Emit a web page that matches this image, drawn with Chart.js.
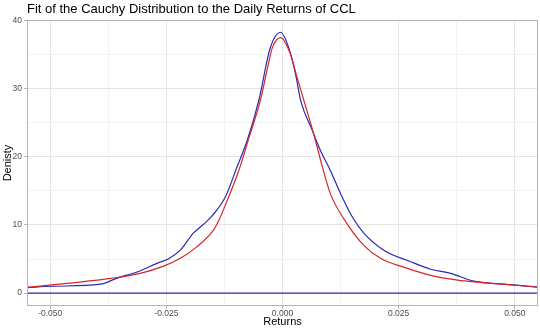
<!DOCTYPE html>
<html>
<head>
<meta charset="utf-8">
<script src="https://cdn.jsdelivr.net/npm/chart.js@4"></script>
<style>
  html, body { margin: 0; padding: 0; background: #fff; }
  #wrap { width: 540px; height: 331px; }
</style>
</head>
<body>
<div id="wrap"><canvas id="myChart" width="540" height="331"></canvas></div>
<script>
// DATA
const kdeReturns = [-0.0550, -0.0494, -0.0392, -0.0356, -0.0313, -0.0269, -0.0246, -0.0220, -0.0192, -0.0170,
  -0.0152, -0.0123, -0.0098, -0.0076, -0.0051, -0.0026, -0.0004, 0.0013, 0.0028, 0.0039,
  0.0064, 0.0082, 0.0103, 0.0125, 0.0150, 0.0175, 0.0218, 0.0276, 0.0319, 0.0362, 0.0412, 0.0476, 0.0550];
const kdeDensity = [0.8, 1.0, 1.3, 2.2, 3.1, 4.4, 5.0, 6.3, 8.8, 10.1,
  11.3, 14.1, 18.5, 22.4, 28.3, 36.1, 38.3, 36.1, 32.2, 28.3,
  23.9, 20.9, 18.0, 14.6, 11.2, 8.8, 6.3, 4.6, 3.5, 2.9, 1.75, 1.3, 0.9];

const cauchyReturns = [-0.0550, -0.0453, -0.0370, -0.0306, -0.0256, -0.0220, -0.0188, -0.0149, -0.0137, -0.0116,
  -0.0094, -0.0073, -0.0047, -0.0034, -0.0022, -0.0004, 0.0017, 0.0030, 0.0046, 0.0067, 0.0086,
  0.0103, 0.0132, 0.0175, 0.0211, 0.0261, 0.0319, 0.0377, 0.0420, 0.0476, 0.0550];
const cauchyDensity = [0.85, 1.5, 2.15, 2.9, 3.95, 5.1, 6.6, 9.2, 10.7, 14.1,
  18.0, 22.6, 28.5, 32.5, 36.0, 37.5, 35.1, 32.0, 28.3, 23.4, 18.5,
  14.6, 10.9, 7.0, 5.1, 3.8, 2.6, 1.9, 1.6, 1.3, 0.85];

const baselineReturns = [-0.055, 0.055];
const baselineDensity = [0, 0];

const xTicks = [-0.05, -0.0375, -0.025, -0.0125, 0, 0.0125, 0.025, 0.0375, 0.05];
const xMajor = [-0.05, -0.025, 0, 0.025, 0.05];
const xLabels = ["-0.050", "-0.025", "0.000", "0.025", "0.050"];
const yTicks = [0, 5, 10, 15, 20, 25, 30, 35, 40];
const yMajor = [0, 10, 20, 30, 40];

const FONT = "'Liberation Sans', Arial, sans-serif";

function toPoints(xs, ys) {
  return xs.map((x, i) => ({ x: x, y: ys[i] }));
}
function isMajor(list, v) {
  return list.some((m) => Math.abs(m - v) < 1e-9);
}

// panel border like ggplot theme_light
const panelBorder = {
  id: "panelBorder",
  afterDraw(chart) {
    const a = chart.chartArea;
    const ctx = chart.ctx;
    ctx.save();
    ctx.strokeStyle = "#b3b3b3";
    ctx.lineWidth = 1;
    ctx.strokeRect(a.left + 0.5, a.top + 0.5, a.right - a.left - 1, a.bottom - a.top - 1);
    ctx.restore();
  },
};

const ctx = document.getElementById("myChart").getContext("2d");
const chart = new Chart(ctx, {
  type: "line",
  data: {
    datasets: [
      {
        label: "baseline",
        data: toPoints(baselineReturns, baselineDensity),
        borderColor: "#2a2ab4",
        borderWidth: 1.2,
        pointRadius: 0,
      },
      {
        label: "Cauchy",
        data: toPoints(cauchyReturns, cauchyDensity),
        borderColor: "#d7262b",
        borderWidth: 1.2,
        pointRadius: 0,
        cubicInterpolationMode: "monotone",
      },
      {
        label: "Density",
        data: toPoints(kdeReturns, kdeDensity),
        borderColor: "#2a2ab4",
        borderWidth: 1.2,
        pointRadius: 0,
        cubicInterpolationMode: "monotone",
      },
    ],
  },
  options: {
    responsive: false,
    animation: false,
    layout: { padding: { left: 0, right: 2, top: 0, bottom: 0 } },
    plugins: {
      legend: { display: false },
      tooltip: { enabled: false },
      title: {
        display: true,
        text: "Fit of the Cauchy Distribution to the Daily Returns of CCL",
        align: "start",
        fullSize: false,
        color: "#000",
        font: { family: FONT, size: 13, weight: "normal" },
        padding: { top: 2, bottom: 2.4 },
      },
    },
    scales: {
      x: {
        type: "linear",
        min: -0.055,
        max: 0.055,
        afterBuildTicks: (scale) => {
          scale.ticks = xTicks.map((v) => ({ value: v }));
        },
        afterFit: (scale) => {
          scale.height = 25;
        },
        ticks: {
          autoSkip: false,
          maxRotation: 0,
          padding: 0,
          color: "#4d4d4d",
          font: { family: FONT, size: 8.5 },
          callback: (v) => {
            const i = xMajor.findIndex((m) => Math.abs(m - v) < 1e-9);
            return i >= 0 ? xLabels[i] : "";
          },
        },
        grid: {
          color: (c) => (c.tick && isMajor(xMajor, c.tick.value) ? "#e4e4e4" : "#f3f3f3"),
          tickColor: (c) => (c.tick && isMajor(xMajor, c.tick.value) ? "#b3b3b3" : "rgba(0,0,0,0)"),
          tickLength: 3,
          drawOnChartArea: true,
        },
        border: { display: false },
        title: {
          display: true,
          text: "Returns",
          color: "#000",
          font: { family: FONT, size: 11 },
          padding: { top: 0, bottom: 2 },
        },
      },
      y: {
        type: "linear",
        min: -1.9,
        max: 40.1,
        afterBuildTicks: (scale) => {
          scale.ticks = yTicks.map((v) => ({ value: v }));
        },
        afterFit: (scale) => {
          scale.width = 27;
        },
        ticks: {
          padding: 2,
          color: "#4d4d4d",
          font: { family: FONT, size: 8.5 },
          callback: (v) => (isMajor(yMajor, v) ? String(v) : ""),
        },
        grid: {
          color: (c) => (c.tick && isMajor(yMajor, c.tick.value) ? "#e4e4e4" : "#f3f3f3"),
          tickColor: (c) => (c.tick && isMajor(yMajor, c.tick.value) ? "#b3b3b3" : "rgba(0,0,0,0)"),
          tickLength: 3,
        },
        border: { display: false },
        title: {
          display: true,
          text: "Denisty",
          color: "#000",
          font: { family: FONT, size: 11 },
          padding: { top: 1, bottom: 0 },
        },
      },
    },
  },
  plugins: [panelBorder],
});
</script>
</body>
</html>
